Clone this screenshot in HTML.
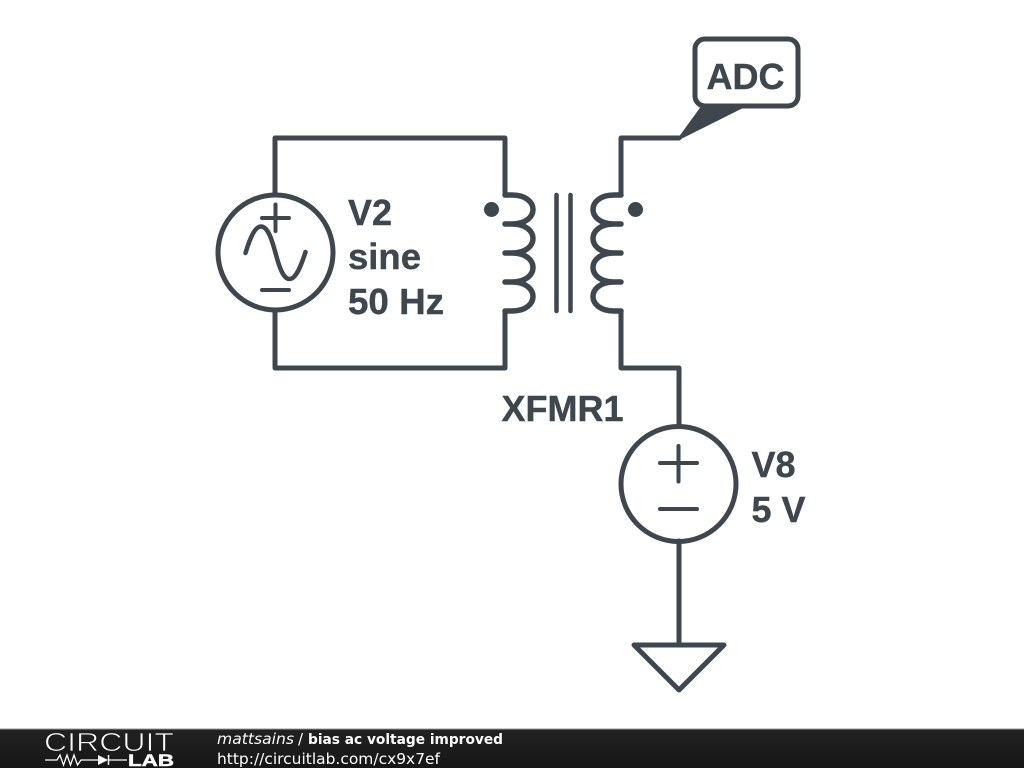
<!DOCTYPE html>
<html><head><meta charset="utf-8"><style>
html,body{margin:0;padding:0;background:#fff;width:1024px;height:768px;overflow:hidden}
svg{display:block}
</style></head><body>
<svg width="1024" height="768" viewBox="0 0 1024 768" xmlns="http://www.w3.org/2000/svg">
<defs><linearGradient id="bar" x1="0" y1="0" x2="0" y2="1"><stop offset="0" stop-color="#222"/><stop offset="1" stop-color="#161616"/></linearGradient></defs>
<rect width="1024" height="768" fill="#fff"/>
<g fill="none" stroke="#3d474d" stroke-width="5" stroke-linecap="round" stroke-linejoin="round">
<path d="M275 194V138H505V195"/>
<path d="M275 311V368H505V311"/>
<path d="M679 138H621V195"/>
<path d="M621 311V368H679V426"/>
<path d="M679 541V645"/>
<circle cx="275.5" cy="252.5" r="57.5"/>
<path d="M262 218H289M275.5 204.5V231M262 290H289" stroke-width="4"/>
<path d="M245.500 253C250 238 255 226.500 261 226.500C268 226.500 272 240 275.500 253C279 266 283 279 289.500 279C296 279 301 266 305.500 252" stroke-width="4.500"/>
<path stroke-width="5.500" d="M505 195H512C540 195 540 224 512 224H505M512 224C540 224 540 253 512 253H505M512 253C540 253 540 282 512 282H505M512 282C540 282 540 311 512 311H505"/>
<path stroke-width="5.500" d="M621 195H614C586 195 586 224 614 224H621M614 224C586 224 586 253 614 253H621M614 253C586 253 586 282 614 282H621M614 282C586 282 586 311 614 311H621"/>
<path d="M556.500 195V311M570.500 195V311" stroke-width="4.500"/>
<circle cx="678.500" cy="484" r="57.500"/>
<path d="M660 463H697M678.500 446V481.500M660 509H697" stroke-width="4"/>
<path d="M634 645H724L679 690Z"/>
<rect x="695" y="39" width="103" height="67" rx="10" ry="10"/>
</g>
<circle cx="491.500" cy="209.500" r="7.500" fill="#3d474d"/>
<circle cx="635.500" cy="209.500" r="7.500" fill="#3d474d"/>
<polygon points="678,138 702,105 749,105 681,139" fill="#3d474d"/>
<g font-family="'Liberation Sans',sans-serif" font-weight="700" font-size="36.500" fill="#3d474d" stroke="#3d474d" stroke-width="0.400">
<text x="706.500" y="89" textLength="78" lengthAdjust="spacingAndGlyphs">ADC</text>
<text x="348" y="225" textLength="44" lengthAdjust="spacingAndGlyphs">V2</text>
<text x="348" y="269" textLength="73" lengthAdjust="spacingAndGlyphs">sine</text>
<text x="348" y="314" textLength="96" lengthAdjust="spacingAndGlyphs">50 Hz</text>
<text x="501.500" y="421" textLength="122" lengthAdjust="spacingAndGlyphs">XFMR1</text>
<text x="751.500" y="477" textLength="44" lengthAdjust="spacingAndGlyphs">V8</text>
<text x="751.500" y="522" textLength="54" lengthAdjust="spacingAndGlyphs">5 V</text>
</g>
<rect x="0" y="729" width="1024" height="39" fill="url(#bar)"/>
<rect x="0" y="728.500" width="1024" height="1" fill="#9a9a9a"/>
<text x="44" y="751" font-family="'Liberation Sans',sans-serif" font-size="26" textLength="130" lengthAdjust="spacingAndGlyphs" fill="#fff" stroke="#1e1e1e" stroke-width="0.800">CIRCUIT</text>
<path d="M45 760H57L60 755L63.500 765L67 755L70.500 765L74 755L77.500 765L81 760H99M108 760H127" fill="none" stroke="#fff" stroke-width="1.300"/>
<path d="M98 755V765L108 760Z" fill="#fff"/>
<path d="M108.500 755V765" stroke="#fff" stroke-width="1.500"/>
<text x="128" y="766" font-family="'Liberation Sans',sans-serif" font-weight="700" font-size="17" textLength="46" lengthAdjust="spacingAndGlyphs" fill="#fff" stroke="#fff" stroke-width="0.500">LAB</text>
<g font-family="'DejaVu Sans',sans-serif" fill="#fff">
<text x="217" y="744" font-size="15" font-style="italic" textLength="77" lengthAdjust="spacingAndGlyphs">mattsains</text>
<text x="298" y="744" font-size="15">/</text>
<text x="308" y="744" font-size="14" font-weight="700" textLength="195" lengthAdjust="spacingAndGlyphs">bias ac voltage improved</text>
<text x="217" y="764" font-size="15.500" textLength="223" lengthAdjust="spacingAndGlyphs">http://circuitlab.com/cx9x7ef</text>
</g>
</svg>
</body></html>
